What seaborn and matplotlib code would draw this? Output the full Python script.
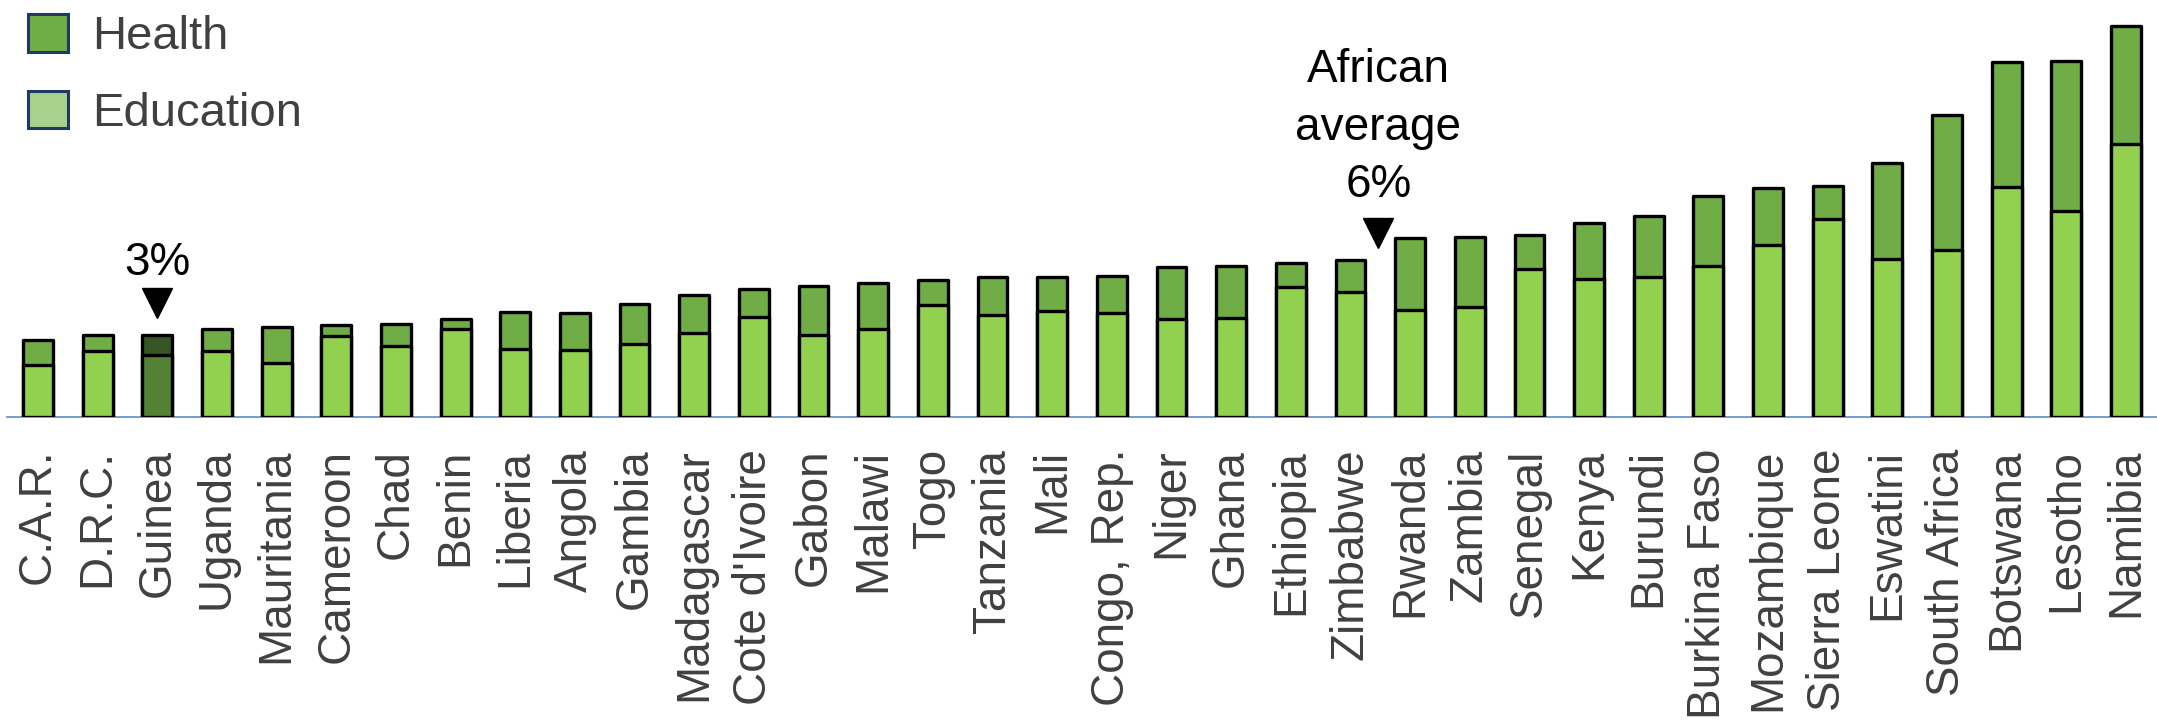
import matplotlib
matplotlib.use("Agg")
import matplotlib.pyplot as plt
import matplotlib.transforms as mtransforms
from matplotlib.patches import Patch
import seaborn as sns
import pandas as pd

countries = ["C.A.R.", "D.R.C.", "Guinea", "Uganda", "Mauritania", "Cameroon", "Chad",
             "Benin", "Liberia", "Angola", "Gambia", "Madagascar", "Cote d'Ivoire", "Gabon",
             "Malawi", "Togo", "Tanzania", "Mali", "Congo, Rep.", "Niger", "Ghana", "Ethiopia",
             "Zimbabwe", "Rwanda", "Zambia", "Senegal", "Kenya", "Burundi", "Burkina Faso",
             "Mozambique", "Sierra Leone", "Eswatini", "South Africa", "Botswana", "Lesotho",
             "Namibia"]
education = [1.91, 2.43, 2.28, 2.42, 1.96, 2.98, 2.60, 3.22, 2.50, 2.45, 2.66, 3.08, 3.68,
             3.00, 3.21, 4.10, 3.74, 3.88, 3.82, 3.58, 3.64, 4.76, 4.58, 3.92, 4.02, 5.44,
             5.06, 5.15, 5.54, 6.31, 7.26, 5.81, 6.13, 8.46, 7.57, 10.03]
health = [0.91, 0.58, 0.72, 0.81, 1.35, 0.39, 0.80, 0.36, 1.34, 1.37, 1.49, 1.40, 1.03,
          1.81, 1.69, 0.92, 1.39, 1.26, 1.35, 1.91, 1.91, 0.88, 1.18, 2.64, 2.57, 1.24,
          2.05, 2.23, 2.57, 2.11, 1.22, 3.51, 4.96, 4.57, 5.51, 4.35]
highlight = "Guinea"
highlight_label = "3%"
average_label = "African\naverage\n6%"

EDU_C, HEA_C = "#92D050", "#70AD47"
EDU_HI, HEA_HI = "#548235", "#375623"
LEG_EDU, LEG_HEA, LEG_EDGE = "#A9D18E", "#70AD47", "#1F3864"
GREY = "#404040"

df = pd.DataFrame({"country": countries, "education": education, "health": health})
df["total"] = df["education"] + df["health"]

W, H = 2157, 725
fig = plt.figure(figsize=(W / 100, H / 100), dpi=100)
sns.set_style("white")
plt.rcParams["font.family"] = ["Liberation Sans", "DejaVu Sans"]

base_px = 416.7
ax = fig.add_axes([7 / W, (H - base_px) / H, 2150 / W, base_px / H])

hea_pal = {c: (HEA_HI if c == highlight else HEA_C) for c in countries}
edu_pal = {c: (EDU_HI if c == highlight else EDU_C) for c in countries}

common = dict(x="country", order=countries, hue="country", hue_order=countries,
              legend=False, width=0.5, edgecolor="black", linewidth=2.4,
              saturation=1, ax=ax, errorbar=None)
sns.barplot(data=df, y="total", palette=hea_pal, **common)
sns.barplot(data=df, y="education", palette=edu_pal, **common)
for p in ax.patches:
    p.set_joinstyle("round")

ax.set_xlim(-0.52, len(countries) - 0.48)
ax.set_ylim(0, base_px / 27.2)
ax.set_xlabel("")
ax.set_ylabel("")
ax.set_yticks([])
for s in ["top", "right", "left"]:
    ax.spines[s].set_visible(False)
ax.spines["bottom"].set_color("#5B8BD0")
ax.spines["bottom"].set_linewidth(1.2)
ax.spines["bottom"].set_zorder(0.5)
ax.tick_params(axis="x", length=0, pad=23, labelsize=33, labelcolor=GREY, rotation=90)

# Guinea annotation
gi = countries.index(highlight)
gtot = df.loc[gi, "total"]
trans_up = mtransforms.offset_copy(ax.transData, fig=fig, x=0, y=23, units="points")
ax.plot([gi], [gtot], marker="v", markersize=21, color="black", transform=trans_up,
        clip_on=False, linestyle="none")
ax.text(gi, gtot + 2.21, highlight_label, ha="center", va="baseline", fontsize=33,
        color="black")

# African average annotation
ax_x = 22.47
ax.plot([ax_x], [6.77], marker="v", markersize=21, color="black", clip_on=False,
        linestyle="none")
ax.text(ax_x, 7.7, average_label, ha="center", va="bottom", fontsize=33,
        color="black", linespacing=1.4)

handles = [Patch(facecolor=LEG_HEA, edgecolor=LEG_EDGE, linewidth=2.2, label="Health"),
           Patch(facecolor=LEG_EDU, edgecolor=LEG_EDGE, linewidth=2.2, label="Education")]
leg = fig.legend(handles=handles, loc="upper left", bbox_to_anchor=(28 / W, 1 - 14 / H),
                 frameon=False, fontsize=34, handlelength=0.85, handleheight=0.85,
                 handletextpad=0.5, labelspacing=0.67, borderpad=0, borderaxespad=0)
for t in leg.get_texts():
    t.set_color(GREY)

fig.savefig("out.png", dpi=100)
